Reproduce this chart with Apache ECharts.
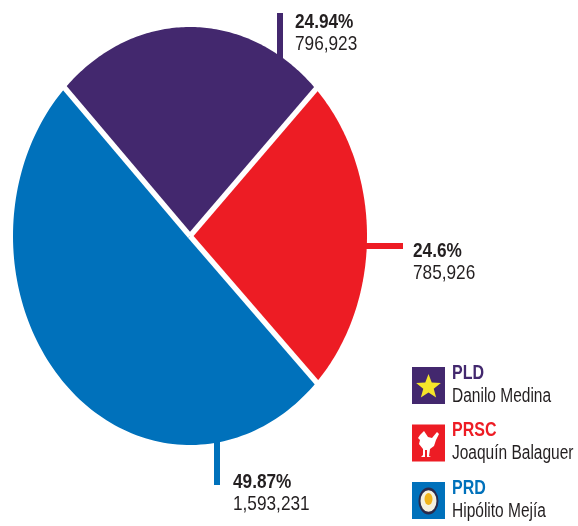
<!DOCTYPE html>
<html>
<head>
<meta charset="utf-8">
<script src="https://cdn.jsdelivr.net/npm/echarts@6/dist/echarts.min.js"></script>
<style>
  html, body { margin: 0; padding: 0; background: #fff; }
  #chart { width: 578px; height: 526px; }
</style>
</head>
<body>
<div id="chart"></div>
<script>
// datos de la elección
const parties = ['PLD', 'PRSC', 'PRD'];
const candidates = ['Danilo Medina', 'Joaquín Balaguer', 'Hipólito Mejía'];
const votes = [796923, 785926, 1593231];
const percents = ['24.94%', '24.6%', '49.87%'];
const colors = ['#43286e', '#ed1c24', '#0071bb'];

const FONT = "'Liberation Sans', Arial, sans-serif";
const cx = 190, cy = 236, rx = 177, ry = 209, startAngle = 135;
const total = votes.reduce((a, b) => a + b, 0);

const fmt = n => n.toLocaleString('en-US');

const point = (deg, k) => {
    const a = deg * Math.PI / 180;
    return [cx + rx * k * Math.cos(a), cy - ry * k * Math.sin(a)];
};

const renderSlice = (params, api) => {
    const i = params.dataIndex;
    let before = 0;
    for (let j = 0; j < i; j++) before += votes[j];
    const a0 = startAngle - before / total * 360;
    const a1 = a0 - api.value(0) / total * 360;
    const pts = [[cx, cy]];
    const n = 120;
    for (let k = 0; k <= n; k++) {
        pts.push(point(a0 + (a1 - a0) * k / n, 1));
    }
    const edge = point(a0, 1.05);
    return {
        type: 'group',
        children: [
            { type: 'polygon', shape: { points: pts }, style: { fill: colors[i] } },
            {
                type: 'line', z2: 10,
                shape: { x1: cx, y1: cy, x2: edge[0], y2: edge[1] },
                style: { stroke: '#fff', lineWidth: 5.5 }
            }
        ]
    };
};

const narrowText = (x, y, text, fill, font, sx) => ({
    type: 'text', z: 5,
    x: x, y: y, scaleX: sx,
    style: { x: 0, y: 0, text: text, fill: fill, font: font, verticalAlign: 'top' }
});

// etiquetas de valores
const labelPos = [
    { bar: [277, 13, 6, 50], x: 295, y: 12 },
    { bar: [355, 243, 48, 6], x: 413, y: 241 },
    { bar: [214, 435, 6, 50], x: 233, y: 472 }
];

const graphics = [];
labelPos.forEach((p, i) => {
    graphics.push({
        type: 'rect', z: 5,
        shape: { x: p.bar[0], y: p.bar[1], width: p.bar[2], height: p.bar[3] },
        style: { fill: colors[i] }
    });
    graphics.push(narrowText(p.x, p.y, percents[i], '#231f20', 'bold 21px ' + FONT, 0.82));
    graphics.push(narrowText(p.x, p.y + 22, fmt(votes[i]), '#231f20', '21px ' + FONT, 0.82));
});

// leyenda
parties.forEach((name, i) => {
    const top = 367 + i * 57.5;
    graphics.push({
        type: 'rect', z: 5,
        shape: { x: 412, y: top, width: 33, height: 37 },
        style: { fill: colors[i] }
    });
    graphics.push(narrowText(452, top - 4, name, colors[i], 'bold 20px ' + FONT, 0.8));
    graphics.push(narrowText(452, top + 19, candidates[i], '#231f20', '20px ' + FONT, 0.775));
});

// iconos: estrella, gallo, escudo
const star = [];
for (let k = 0; k < 10; k++) {
    const a = (-90 + k * 36) * Math.PI / 180;
    const r = k % 2 ? 5.5 : 13;
    star.push([428.5 + r * Math.cos(a), 387 + r * Math.sin(a)]);
}
graphics.push({ type: 'polygon', z: 6, shape: { points: star }, style: { fill: '#f5e52a' } });
const rooster = [
    [420, 435], [424, 431], [426, 434], [428, 437], [432, 438], [437, 432], [439, 434],
    [436, 440], [434, 446], [430, 449], [429, 456], [431, 457], [427, 457], [427, 450],
    [425, 450], [425, 457], [421, 457], [423, 455], [423, 449], [419, 444], [420, 440], [418, 438]
];
graphics.push({ type: 'polygon', z: 6, shape: { points: rooster }, style: { fill: '#fff' } });
graphics.push({
    type: 'circle', z: 6, scaleY: 1.35, originX: 428.5, originY: 501,
    shape: { cx: 428.5, cy: 501, r: 9 },
    style: { fill: '#f4f1e0', stroke: '#2b2a4a', lineWidth: 2 }
});
graphics.push({
    type: 'circle', z: 6, scaleY: 1.5, originX: 428.5, originY: 499,
    shape: { cx: 428.5, cy: 499, r: 4 },
    style: { fill: '#f0b41c' }
});

const option = {
    animation: false,
    series: [
        {
            type: 'custom',
            coordinateSystem: 'none',
            renderItem: renderSlice,
            data: votes.map((v, i) => ({ name: parties[i], value: [v] }))
        }
    ],
    graphic: graphics
};

const mychart = echarts.init(document.getElementById('chart'));
mychart.setOption(option);
</script>
</body>
</html>
